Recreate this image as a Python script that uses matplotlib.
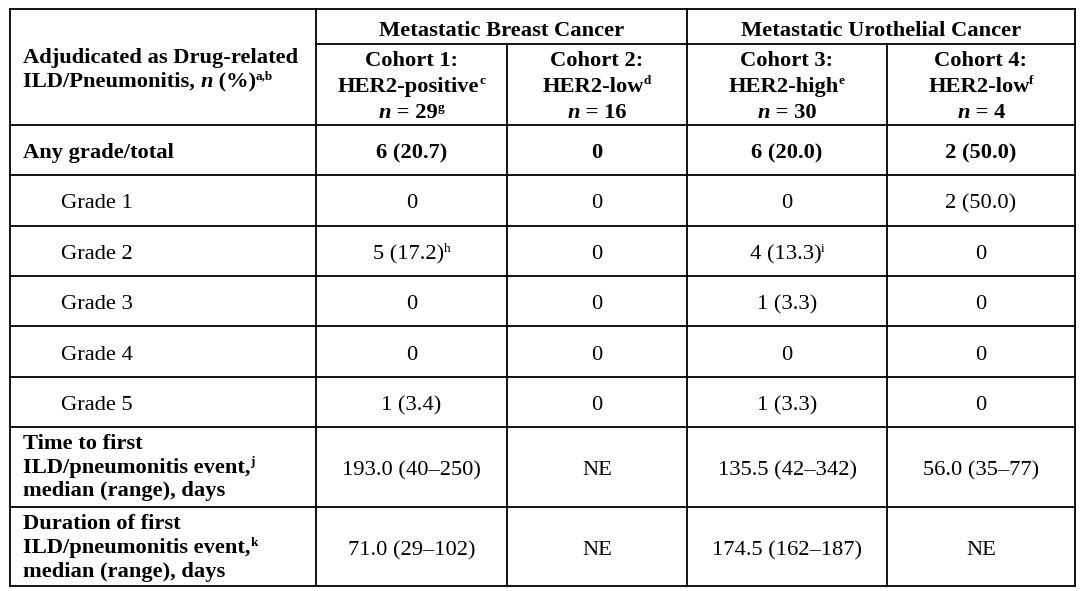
import matplotlib
matplotlib.use("Agg")
import matplotlib.pyplot as plt

plt.rcParams['font.family'] = ['Liberation Serif', 'DejaVu Serif']

# table content
groups = ["Metastatic Breast Cancer", "Metastatic Urothelial Cancer"]
cohort_names = ["Cohort 1:", "Cohort 2:", "Cohort 3:", "Cohort 4:"]
cohort_her2 = ["HER2-positive", "HER2-low", "HER2-high", "HER2-low"]
cohort_her2_fn = ["c", "d", "e", "f"]
cohort_n = ["29", "16", "30", "4"]
cohort_n_fn = ["g", "", "", ""]

row_labels = ["Any grade/total", "Grade 1", "Grade 2", "Grade 3", "Grade 4", "Grade 5"]
cohort1 = ["6 (20.7)", "0", "5 (17.2)", "0", "0", "1 (3.4)", "193.0 (40\u2013250)", "71.0 (29\u2013102)"]
cohort2 = ["0", "0", "0", "0", "0", "0", "NE", "NE"]
cohort3 = ["6 (20.0)", "0", "4 (13.3)", "1 (3.3)", "0", "1 (3.3)", "135.5 (42\u2013342)", "174.5 (162\u2013187)"]
cohort4 = ["2 (50.0)", "2 (50.0)", "0", "0", "0", "0", "56.0 (35\u201377)", "NE"]
cohort1_fn = ["", "", "h", "", "", "", "", ""]
cohort3_fn = ["", "", "i", "", "", "", "", ""]
time_label = ["Time to first", "ILD/pneumonitis event,", "median (range), days"]
dur_label = ["Duration of first", "ILD/pneumonitis event,", "median (range), days"]
time_fn, dur_fn = "j", "k"

FS = 16.2
SUP = 9.5

fig = plt.figure(figsize=(10.8, 5.91), dpi=100)
ax = fig.add_axes([0, 0, 1, 1])
ax.set_xlim(0, 1080)
ax.set_ylim(591, 0)
ax.axis('off')
renderer = fig.canvas.get_renderer()


def text_w(s, size, weight, style):
    # advance width incl. leading/trailing spaces
    t1 = ax.text(0, 0, "." + s + ".", fontsize=size, fontweight=weight, fontstyle=style)
    t2 = ax.text(0, 0, "..", fontsize=size, fontweight=weight, fontstyle=style)
    w = t1.get_window_extent(renderer).width - t2.get_window_extent(renderer).width
    t1.remove()
    t2.remove()
    return w


def runs(x, y, parts, ha='left'):
    # parts: (text, weight, style, sup)
    texts = []
    pos = 0.0
    prev = None
    for s, wgt, sty, sup in parts:
        size = SUP if sup else FS
        if sup and prev is not None:
            pos = prev.get_window_extent(renderer).x1 - 0.3
        t = ax.text(pos, y - 7.5 if sup else y, s, fontsize=size,
                    fontweight=wgt, fontstyle=sty, va='baseline', ha='left')
        texts.append(t)
        pos += text_w(s, size, wgt, sty)
        prev = t
    x0 = texts[0].get_window_extent(renderer).x0
    x1 = max(t.get_window_extent(renderer).x1 for t in texts)
    shift = x - x0 if ha == 'left' else x - (x0 + x1) / 2
    for t in texts:
        t.set_x(t.get_position()[0] + shift)


B, R = 'bold', 'normal'
N, I = 'normal', 'italic'

# grid
left, right, top, bottom = 9.5, 1075, 8.5, 586
c0, c1, c2, c3 = 316, 507, 687, 887
sub_y = 43.5
h_lines = [125, 175, 226, 276, 326, 377, 427, 506.5]
lw = 1.3
for y in [top, bottom] + h_lines:
    ax.plot([left, right], [y, y], color='black', lw=lw, solid_capstyle='projecting')
ax.plot([c0, right], [sub_y, sub_y], color='black', lw=lw)
for x in [left, c0, c2, right]:
    ax.plot([x, x], [top, bottom], color='black', lw=lw, solid_capstyle='projecting')
for x in [c1, c3]:
    ax.plot([x, x], [sub_y, bottom], color='black', lw=lw)

col_centers = [(c0 + c1) / 2, (c1 + c2) / 2, (c2 + c3) / 2, (c3 + right) / 2]

# header
runs(23, 63, [("Adjudicated as Drug-related", B, N, False)])
runs(23, 87, [("ILD/Pneumonitis, ", B, N, False), ("n", B, I, False),
              (" (%)", B, N, False), ("a,b", B, N, True)])
runs((c0 + c2) / 2, 36, [(groups[0], B, N, False)], 'center')
runs((c2 + right) / 2, 36, [(groups[1], B, N, False)], 'center')
for i, cx in enumerate(col_centers):
    runs(cx, 66, [(cohort_names[i], B, N, False)], 'center')
    runs(cx, 92, [(cohort_her2[i], B, N, False), (cohort_her2_fn[i], B, N, True)], 'center')
    p = [("n", B, I, False), (" = " + cohort_n[i], B, N, False)]
    if cohort_n_fn[i]:
        p.append((cohort_n_fn[i], B, N, True))
    runs(cx, 118, p, 'center')

# body rows
row_edges = [125, 175, 226, 276, 326, 377, 427]
cols = [cohort1, cohort2, cohort3, cohort4]
fns = [cohort1_fn, [""] * 8, cohort3_fn, [""] * 8]
for r, lab in enumerate(row_labels):
    base = (row_edges[r] + row_edges[r + 1]) / 2 + 8
    wgt = B if r == 0 else R
    runs(23 if r == 0 else 61, base, [(lab, wgt, N, False)])
    for c, cx in enumerate(col_centers):
        p = [(cols[c][r], wgt, N, False)]
        if fns[c][r]:
            p.append((fns[c][r], wgt, N, True))
        runs(cx, base, p, 'center')

# time / duration rows
for lines, fn, bases, vbase, idx in [(time_label, time_fn, [449, 472.5, 496], 475, 6),
                                     (dur_label, dur_fn, [529, 553, 576.5], 555, 7)]:
    for k, (ln, b) in enumerate(zip(lines, bases)):
        p = [(ln, B, N, False)]
        if k == 1:
            p.append((fn, B, N, True))
        runs(23, b, p)
    for c, cx in enumerate(col_centers):
        runs(cx, vbase, [(cols[c][idx], R, N, False)], 'center')

fig.savefig("out.png", dpi=100, facecolor='white')
